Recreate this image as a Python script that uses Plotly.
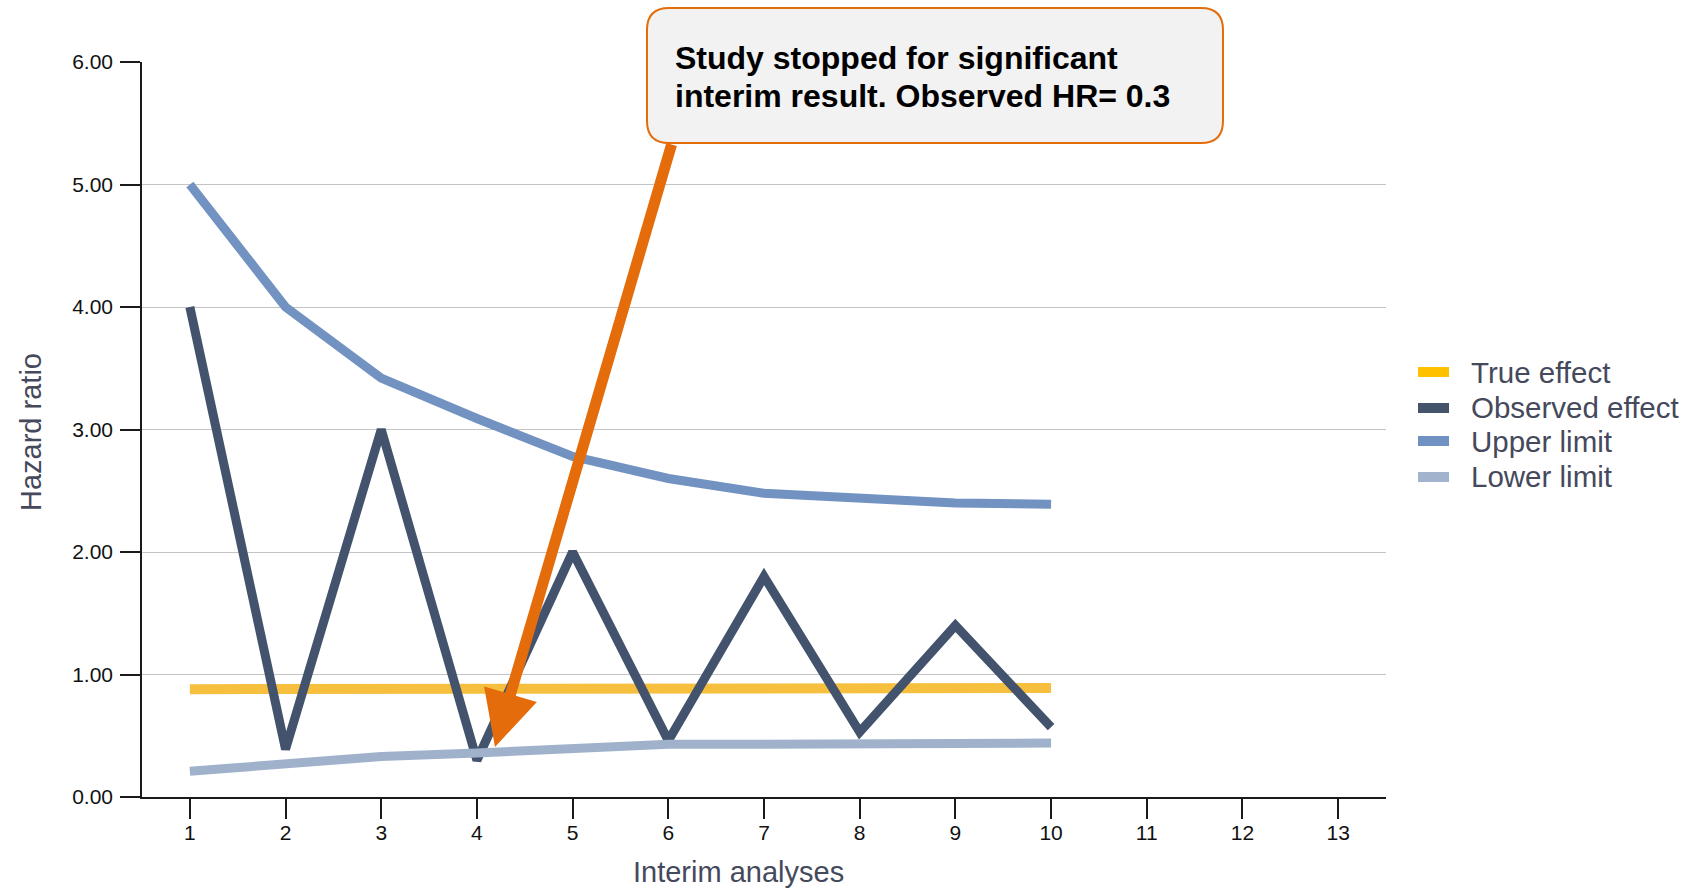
import plotly.graph_objects as go

# Interim analysis data
analyses = [1, 2, 3, 4, 5, 6, 7, 8, 9, 10]
true_effect = [0.88, 0.88, 0.88, 0.88, 0.88, 0.88, 0.885, 0.885, 0.89, 0.89]
observed_effect = [4.0, 0.39, 3.0, 0.3, 2.0, 0.46, 1.8, 0.53, 1.4, 0.57]
upper_limit = [5.0, 4.0, 3.42, 3.09, 2.78, 2.6, 2.48, 2.44, 2.4, 2.39]
lower_limit = [0.21, 0.27, 0.33, 0.36, 0.39, 0.43, 0.43, 0.435, 0.44, 0.44]
x_ticks = list(range(1, 14))
y_ticks = [0, 1, 2, 3, 4, 5, 6]

FONT = "Liberation Sans, Arial, sans-serif"
TEXT_GREY = "#45495C"
ORANGE = "#E46C0A"

W, H = 1697, 890
ML, MR, MT, MB = 142, 311, 62, 93
PW, PH = W - ML - MR, H - MT - MB


def px(x):
    return (x - ML) / PW


def py(y):
    return (H - MB - y) / PH


fig = go.Figure()

# name, values, line colour, key colour, line width
series = [
    ("True effect", true_effect, "#F6BF3E", "#FFC000", 10),
    ("Observed effect", observed_effect, "#43536D", "#44546A", 9),
    ("Upper limit", upper_limit, "#7293C2", "#7092C3", 9),
    ("Lower limit", lower_limit, "#A0B2CB", "#A2B4CD", 9),
]
for name, vals, color, _, width in series:
    fig.add_trace(go.Scatter(
        x=analyses, y=vals, name=name, mode="lines",
        line=dict(color=color, width=width),
        showlegend=False, hoverinfo="skip",
    ))

# key at the right-hand side
key_rows = [372, 408, 441, 477]
for (name, _, _, key_color, _), row in zip(series, key_rows):
    fig.add_shape(type="line", xref="paper", yref="paper",
                  x0=px(1418), x1=px(1449), y0=py(row), y1=py(row),
                  line=dict(color=key_color, width=10))
    fig.add_annotation(text=name, xref="paper", yref="paper",
                       x=px(1469), y=py(row), xanchor="left", yanchor="middle",
                       showarrow=False,
                       font=dict(family=FONT, size=29.5, color=TEXT_GREY))

# rounded call-out box
L, R, T, B, r = 647, 1223, 8, 143, 22
pts = [
    ("M", (L + r, T)), ("L", (R - r, T)), ("Q", (R, T), (R, T + r)),
    ("L", (R, B - r)), ("Q", (R, B), (R - r, B)), ("L", (L + r, B)),
    ("Q", (L, B), (L, B - r)), ("L", (L, T + r)), ("Q", (L, T), (L + r, T)),
]
path = ""
for cmd, *coords in pts:
    path += cmd + " ".join(f"{px(a):.5f},{py(b):.5f}" for a, b in coords) + " "
path += "Z"
fig.add_shape(type="path", path=path, xref="paper", yref="paper",
              fillcolor="#F2F2F2", line=dict(color=ORANGE, width=2), layer="above")

callout_lines = [
    dict(text="<b>Study stopped for significant</b>", x=px(673), y=py(58)),
    dict(text="<b>interim result. Observed HR= 0.3</b>", x=px(673), y=py(96)),
]
for a in callout_lines:
    fig.add_annotation(xref="paper", yref="paper", xanchor="left", yanchor="middle",
                       showarrow=False, font=dict(family=FONT, size=32, color="#000000"), **a)

# arrow from the call-out down to the stopping point
fig.add_annotation(
    x=0.5 + (495 - ML) / (PW / 13), y=(H - MB - 747) / (PH / 6),
    xref="x", yref="y", text="", showarrow=True,
    ax=177, ay=-604, arrowhead=2, arrowwidth=11, arrowsize=1.0,
    arrowcolor=ORANGE, standoff=0,
)

# axis titles
fig.add_annotation(text="Interim analyses", xref="paper", yref="paper",
                   x=px(738), y=py(872), xanchor="center", yanchor="middle",
                   showarrow=False,
                   font=dict(family=FONT, size=29, color=TEXT_GREY))
fig.add_annotation(text="Hazard ratio", xref="paper", yref="paper",
                   x=px(31), y=py(432), xanchor="center", yanchor="middle",
                   showarrow=False, textangle=-90,
                   font=dict(family=FONT, size=29, color=TEXT_GREY))

fig.update_layout(
    width=W, height=H,
    margin=dict(l=ML, r=MR, t=MT, b=MB, pad=0),
    paper_bgcolor="white", plot_bgcolor="white",
    font=dict(family=FONT),
    showlegend=False,
    xaxis=dict(
        range=[0.5, 13.5], tickvals=x_ticks, ticktext=[str(t) for t in x_ticks],
        showgrid=False, zeroline=False, showline=True, linecolor="#1A1A1A", linewidth=1.5,
        ticks="outside", ticklen=20, tickwidth=1.5, tickcolor="#1A1A1A",
        tickfont=dict(family=FONT, size=21, color="#111111"), ticklabelstandoff=-4,
    ),
    yaxis=dict(
        range=[0, 6], tickvals=y_ticks, tickformat=".2f",
        showgrid=True, gridcolor="#C4C4C4", gridwidth=1, zeroline=False,
        showline=True, linecolor="#1A1A1A", linewidth=1.5,
        ticks="outside", ticklen=20, tickwidth=1.5, tickcolor="#1A1A1A",
        tickfont=dict(family=FONT, size=21, color="#111111"), ticklabelstandoff=3,
    ),
)

fig.write_html("out.html")
